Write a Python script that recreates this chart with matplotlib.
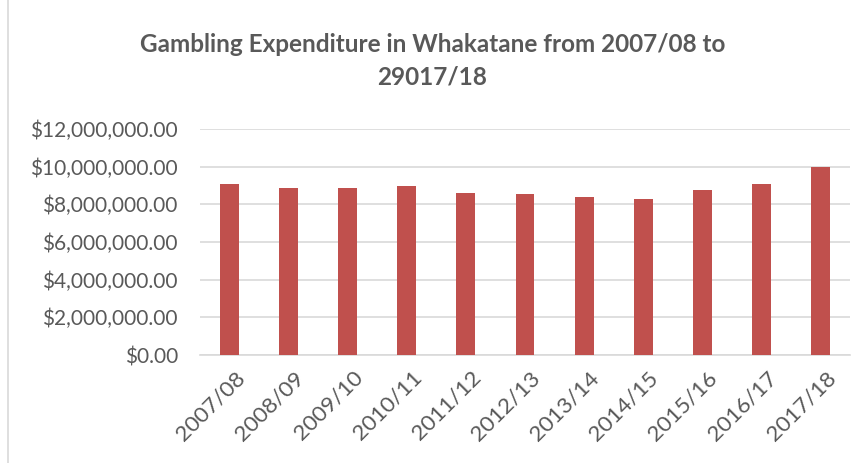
import matplotlib
matplotlib.use("Agg")
import matplotlib.pyplot as plt
from matplotlib.ticker import FuncFormatter
from matplotlib.lines import Line2D
from matplotlib.transforms import ScaledTranslation

years = ["2007/08", "2008/09", "2009/10", "2010/11", "2011/12", "2012/13",
         "2013/14", "2014/15", "2015/16", "2016/17", "2017/18"]
expenditure = [9080000, 8890000, 8850000, 8980000, 8620000, 8550000,
               8370000, 8270000, 8740000, 9080000, 10000000]
yticks = [0, 2000000, 4000000, 6000000, 8000000, 10000000, 12000000]
title = "Gambling Expenditure in Whakatane from 2007/08 to\n29017/18"

plt.rcParams['font.family'] = ['Lato', 'DejaVu Sans']
text_color = "#595959"

fig = plt.figure(figsize=(8.65, 4.63), dpi=100)
ax = fig.add_axes([200/865, 1-355/463, 650/865, 226/463])

x = range(len(years))
ax.bar(x, expenditure, width=0.32, color="#C0504D", zorder=3)
ax.set_xlim(-0.5, len(years)-0.5)
ax.set_ylim(0, 12000000)
ax.set_yticks(yticks)
ax.yaxis.set_major_formatter(FuncFormatter(lambda v, p: f"${v:,.2f}"))
ax.grid(axis="y", color="#D9D9D9", linewidth=1.2, zorder=0)
ax.set_xticks(list(x))
ax.set_xticklabels(years, rotation=45, ha="right", rotation_mode="anchor")
for s in ["top", "right", "left"]:
    ax.spines[s].set_visible(False)
ax.spines["bottom"].set_color("#D9D9D9")
ax.spines["bottom"].set_linewidth(1.2)
ax.tick_params(axis="both", length=0, colors=text_color)
ax.tick_params(axis="y", pad=16, labelsize=15)
ax.tick_params(axis="x", pad=9, labelsize=16.2)
offset = ScaledTranslation(5/100, 0, fig.dpi_scale_trans)
for lbl in ax.get_xticklabels():
    lbl.set_transform(lbl.get_transform() + offset)

fig.text(0.5, 1-61/463, title, ha="center", va="center", fontsize=17.5,
         fontweight="bold", color=text_color, linespacing=1.5)

fig.add_artist(Line2D([8/865, 8/865], [0, 1], color="#D9D9D9", linewidth=1.2,
                      transform=fig.transFigure))

fig.savefig("out.png", dpi=100)
